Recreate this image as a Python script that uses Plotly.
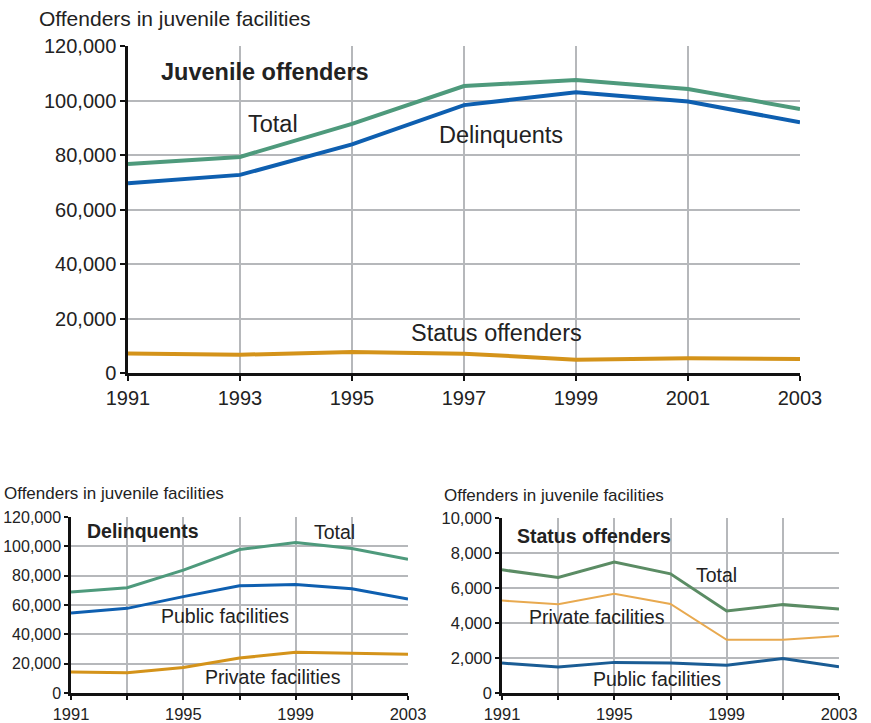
import plotly.graph_objects as go

years = [1991, 1993, 1995, 1997, 1999, 2001, 2003]

# Juvenile offenders (top chart)
juv_total = [76700, 79300, 91400, 105300, 107500, 104200, 96900]
juv_delinquents = [69600, 72700, 83900, 98300, 103000, 99600, 92000]
juv_status = [7200, 6700, 7700, 7100, 4900, 5400, 5100]

# Delinquents (bottom left)
del_total = [68800, 71800, 83800, 97800, 102600, 98500, 91200]
del_public = [54600, 57700, 65700, 73100, 74000, 71100, 64100]
del_private = [14300, 13800, 17400, 23800, 27800, 27400, 26500]

# Status offenders (bottom right)
st_total = [7040, 6600, 7480, 6810, 4690, 5050, 4800]
st_private = [5280, 5070, 5670, 5090, 3040, 3040, 3260]
st_public = [1710, 1480, 1750, 1710, 1590, 1970, 1500]

top_ticks = [str(y) for y in years]
small_ticks = ["1991", "", "1995", "", "1999", "", "2003"]

W, H = 871, 723
FONT = "Liberation Sans, Arial, sans-serif"

GREEN = "#4e9a7c"
BLUE = "#0e5fb0"
GOLD = "#d4931a"
GREEN2 = "#5b8c64"
ORANGE2 = "#e8a94f"
BLUE2 = "#1a5c94"
GRID = "#b6b8bb"


def fx(px):
    return px / W


def fy(py):
    return 1 - py / H


def px_dom(a, b):
    return [fx(a), fx(b)]


def py_dom(top, bottom):
    return [fy(bottom), fy(top)]


fig = go.Figure()

fig.add_trace(go.Scatter(x=years, y=juv_total, mode="lines", line=dict(color=GREEN, width=4), xaxis="x", yaxis="y"))
fig.add_trace(go.Scatter(x=years, y=juv_delinquents, mode="lines", line=dict(color=BLUE, width=4), xaxis="x", yaxis="y"))
fig.add_trace(go.Scatter(x=years, y=juv_status, mode="lines", line=dict(color=GOLD, width=4), xaxis="x", yaxis="y"))

fig.add_trace(go.Scatter(x=years, y=del_total, mode="lines", line=dict(color=GREEN, width=3), xaxis="x2", yaxis="y2"))
fig.add_trace(go.Scatter(x=years, y=del_public, mode="lines", line=dict(color=BLUE, width=3), xaxis="x2", yaxis="y2"))
fig.add_trace(go.Scatter(x=years, y=del_private, mode="lines", line=dict(color=GOLD, width=3), xaxis="x2", yaxis="y2"))

fig.add_trace(go.Scatter(x=years, y=st_total, mode="lines", line=dict(color=GREEN2, width=3), xaxis="x3", yaxis="y3"))
fig.add_trace(go.Scatter(x=years, y=st_private, mode="lines", line=dict(color=ORANGE2, width=2), xaxis="x3", yaxis="y3"))
fig.add_trace(go.Scatter(x=years, y=st_public, mode="lines", line=dict(color=BLUE2, width=3), xaxis="x3", yaxis="y3"))


def xaxis(domain, anchor, ticktext, size, gw, tl=5):
    return dict(domain=domain, anchor=anchor, range=[1991, 2003], tickvals=years, ticktext=ticktext,
                showgrid=True, gridcolor=GRID, gridwidth=gw, zeroline=False,
                showline=True, linecolor="#111", linewidth=2.5,
                ticks="outside", ticklen=tl, tickwidth=1.5, tickcolor="#111",
                tickfont=dict(size=size, color="#222", family=FONT),
                automargin=False, fixedrange=True)


def yaxis(domain, anchor, top, step, size, gw, tl=5):
    return dict(domain=domain, anchor=anchor, range=[0, top], dtick=step, tickformat=",d",
                showgrid=True, gridcolor=GRID, gridwidth=gw, zeroline=False,
                showline=True, linecolor="#111", linewidth=2.5,
                ticks="outside", ticklen=tl, tickwidth=1.5, tickcolor="#111",
                tickfont=dict(size=size, color="#222", family=FONT),
                automargin=False, fixedrange=True)


fig.update_layout(
    width=W, height=H,
    margin=dict(l=0, r=0, t=0, b=0, pad=0, autoexpand=False),
    paper_bgcolor="white", plot_bgcolor="white",
    showlegend=False,
    font=dict(family=FONT, color="#222"),
    xaxis=xaxis(px_dom(128, 800), "y", top_ticks, 20, 2),
    yaxis=yaxis(py_dom(46, 373), "x", 120000, 20000, 20, 2),
    xaxis2=xaxis(px_dom(71, 408), "y2", small_ticks, 16.5, 1.5, 4),
    yaxis2=yaxis(py_dom(517, 693), "x2", 120000, 20000, 16, 1.5, 4),
    xaxis3=xaxis(px_dom(502, 839), "y3", small_ticks, 16.5, 1.5, 4),
    yaxis3=yaxis(py_dom(518, 693), "x3", 10000, 2000, 16.5, 1.5, 4),
)


def note(text, x, y, xr, yr, size, bold=False, xanchor="center"):
    fig.add_annotation(text=f"<b>{text}</b>" if bold else text, x=x, y=y, xref=xr, yref=yr,
                       showarrow=False, xanchor=xanchor, yanchor="middle",
                       font=dict(size=size, color="#222", family=FONT))


# axis captions
note("Offenders in juvenile facilities", fx(37), fy(18), "paper", "paper", 21, xanchor="left")
note("Offenders in juvenile facilities", fx(2), fy(493), "paper", "paper", 17, xanchor="left")
note("Offenders in juvenile facilities", fx(442), fy(495), "paper", "paper", 17, xanchor="left")

# top chart labels
note("Juvenile offenders", 1991.55, 110400, "x", "y", 23.5, bold=True, xanchor="left")
note("Total", 1993.59, 91400, "x", "y", 23.5)
note("Delinquents", 1997.66, 87300, "x", "y", 23.5)
note("Status offenders", 1997.58, 14700, "x", "y", 23.5)

# bottom left labels
note("Delinquents", 1991.5, 110400, "x2", "y2", 19.5, bold=True, xanchor="left")
note("Total", 2000.38, 109800, "x2", "y2", 19.5)
note("Public facilities", 1996.47, 52500, "x2", "y2", 19.5)
note("Private facilities", 1998.21, 10900, "x2", "y2", 19.5)

# bottom right labels
note("Status offenders", 1991.46, 8970, "x3", "y3", 19.5, bold=True, xanchor="left")
note("Total", 1998.64, 6740, "x3", "y3", 19.5)
note("Private facilities", 1994.4, 4340, "x3", "y3", 19.5)
note("Public facilities", 1996.52, 800, "x3", "y3", 19.5)

# drop the default 8px page margin so the figure fills the window exactly
fig.write_html("out.html", config={"displayModeBar": False},
               post_script="document.body.style.margin='0';")
